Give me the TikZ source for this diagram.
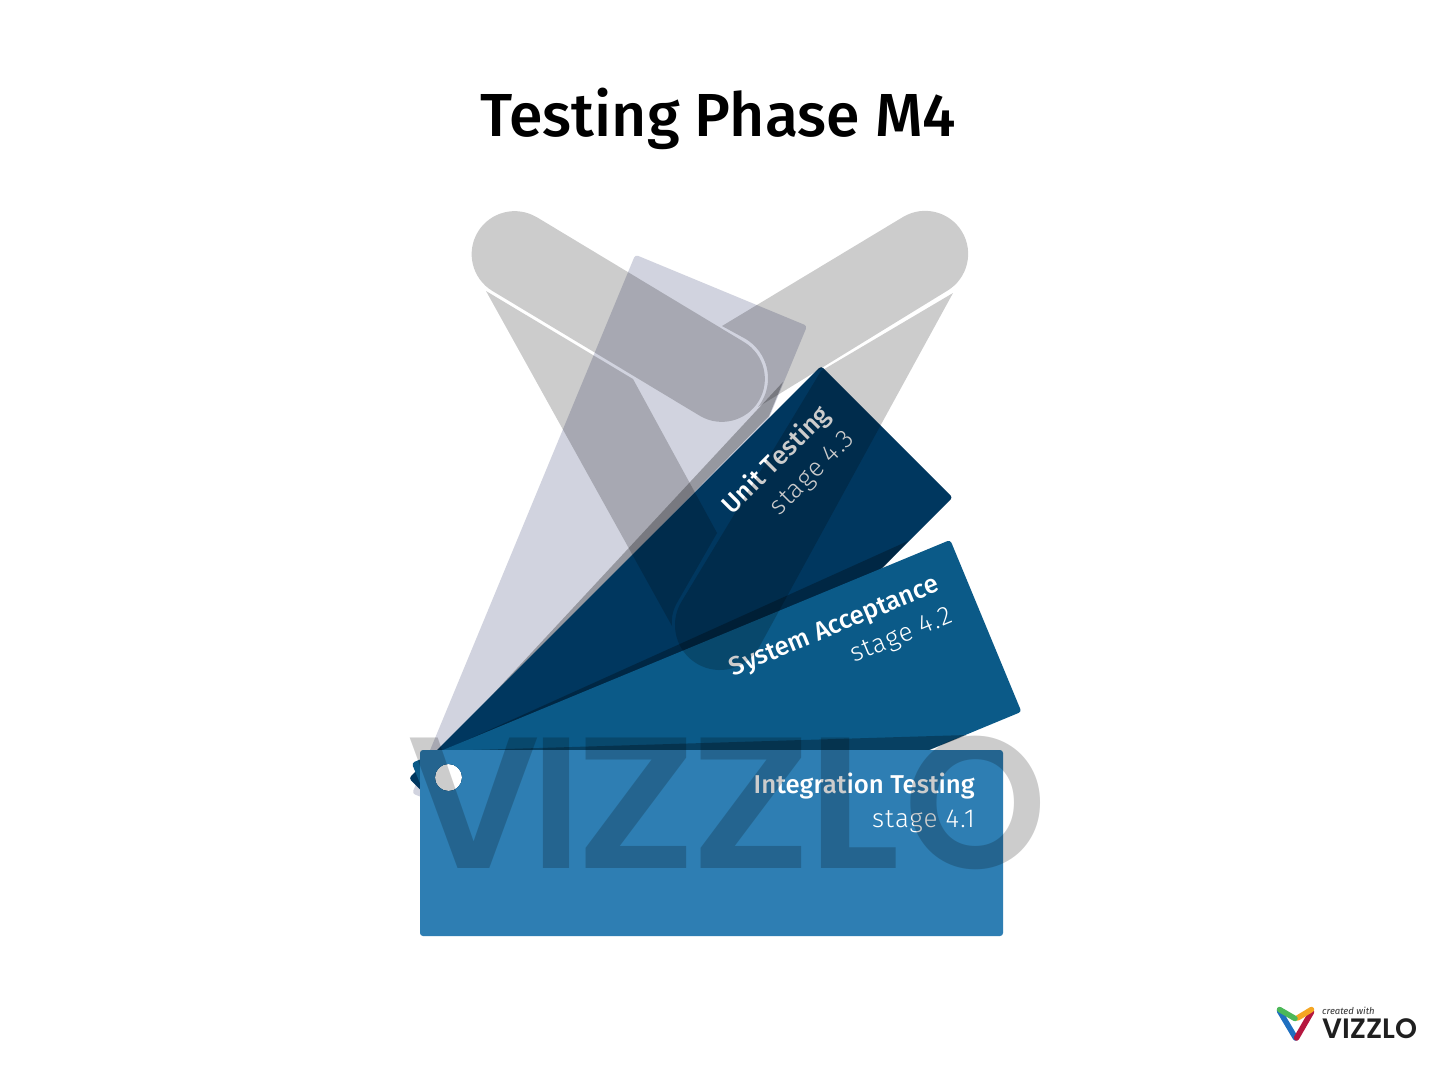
\documentclass[tikz,border=0pt]{standalone}
\usepackage{fontspec}
\setmainfont{Fira Sans}
\newfontfamily\fmed{Fira Sans Medium}
\newfontfamily\flight{Fira Sans Light}[LetterSpace=4]
\newfontfamily\pop{Poppins SemiBold}
\definecolor{cardA}{HTML}{2E7EB3}
\definecolor{cardB}{HTML}{0B5A88}
\definecolor{cardC}{HTML}{00375F}
\definecolor{cardD}{HTML}{D1D3DF}
\definecolor{lgblue}{HTML}{1F6FC0}
\definecolor{lgred}{HTML}{B5173F}
\definecolor{lgyellow}{HTML}{F5A623}
\definecolor{lggreen}{HTML}{4CB858}
\tikzset{
  card/.style={even odd rule,rounded corners=3},
  wm/.style={fill=black,fill opacity=.2},
  shade/.style={fill=black,fill opacity=.28},
  headtxt/.style={text=white,anchor=base east,inner sep=0pt,font=\fmed\fontsize{25.8}{30}\selectfont},
  subtxt/.style={text=white,anchor=base east,inner sep=0pt,font=\flight\fontsize{26}{30}\selectfont}
}
\begin{document}
\begin{tikzpicture}[x=1pt,y=1pt,yscale=-1]
\useasboundingbox (0,0) rectangle (1440,1080);
\fill[white] (0,0) rectangle (1440,1080);
\node[inner sep=0pt,anchor=base,font=\fmed\fontsize{60.8}{64}\selectfont] (title) at (718,136) {Testing Phase M4};
% card 4
\fill[cardD,card,rotate around={-67.5:(448.5,777.5)}] (420,750) rectangle (1003,936) (448.5,777.5) circle (13.6);
\fill[shade] (441,750) -- (783,382) -- (769,416) -- cycle;
% card 3
\fill[cardC,card,rotate around={-45:(448.5,777.5)}] (420,750) rectangle (1003,936) (448.5,777.5) circle (13.6);
\path[rotate around={-45:(448.5,777.5)}] (975,793) node[headtxt,rotate=45] (t3a) {Unit Testing} (975,827) node[subtxt,rotate=45] (t3b) {stage 4.3};
\fill[shade] (445,750) -- (908,541) -- (883,568) -- cycle;
% card 2
\fill[cardB,card,rotate around={-22.5:(448.5,777.5)}] (420,750) rectangle (1003,936) (448.5,777.5) circle (13.6);
\path[rotate around={-22.5:(448.5,777.5)}] (975,793) node[headtxt,rotate=22.5] (t2a) {System Acceptance} (975,827) node[subtxt,rotate=22.5] (t2b) {stage 4.2};
\fill[shade] (440,751) -- (967,735) -- (927,751) -- cycle;
% card 1
\fill[cardA,card] (420,750) rectangle (1003,936) (448.5,777.5) circle (13.6);
\node[headtxt] (t1a) at (975,793) {Integration Testing};
\node[subtxt] (t1b) at (975,827) {stage 4.1};
% big V watermark
\fill[wm] (536.5,217) -- (744,342) arc[start angle=-59,end angle=121,radius=43] -- (492.5,291) arc[start angle=121,end angle=301,radius=43] -- cycle;
\fill[wm] (903,217) arc[start angle=239,end angle=419,radius=43] -- (758,407) arc[start angle=38.5,end angle=-59,radius=46] -- (722,326) -- cycle;
\fill[wm] (486,291) -- (633,379) -- (717,533) -- (678,601) .. controls (673,609) and (671,618) .. (672,626) -- cycle;
\fill[wm] (953,293) -- (821,371) -- (681,602.5) arc[start angle=210,end angle=30,radius=45] -- cycle;
% VIZZLO watermark
\node[inner sep=0pt,anchor=base west,text=black,text opacity=.2,font=\pop\fontsize{187}{187}\selectfont] (wmtext) at (407,868) {V\kern-10pt I\kern-7pt \scalebox{1.13}[1]{Z}\kern-6pt \scalebox{1.13}[1]{Z}\kern-5pt \scalebox{1.08}[1]{L}\kern4pt \scalebox{.97}[1]{O}};
% logo
\draw[line width=5.5,line cap=round,color=lgblue] (1279.5,1011) -- (1295.5,1038);
\draw[line width=5.5,line cap=round,color=lgred] (1296.5,1038) -- (1311.5,1012);
\draw[line width=5.5,line cap=round,color=lgyellow] (1311.5,1009.5) -- (1297.5,1018);
\draw[line width=5.5,line cap=round,color=lggreen] (1279.5,1009.5) -- (1295,1018.5);
\node[inner sep=0pt,anchor=base west,text=black!80,font=\itshape\fontsize{9.5}{10}\selectfont] (lg1) at (1322,1014) {created with};
\node[inner sep=0pt,anchor=base west,text=black!88,font=\pop\fontsize{28}{28}\selectfont] (lg2) at (1322,1038) {VIZZLO};
\end{tikzpicture}
\end{document}
